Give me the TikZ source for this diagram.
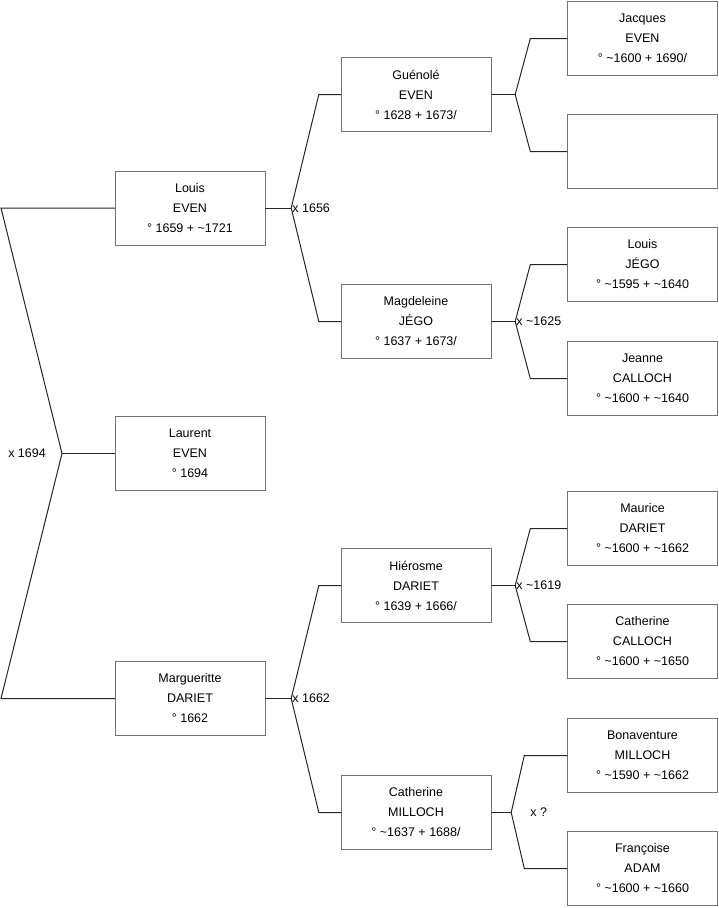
\documentclass[tikz,border=0pt]{standalone}
\usepackage{fontspec}
\setmainfont{Liberation Sans}
\usetikzlibrary{positioning}
\tikzset{
  pbox/.style={draw=black!55,fill=white,minimum width=150pt,minimum height=74pt,inner sep=0pt,align=center,font=\fontsize{12.5}{20}\selectfont},
  lnk/.style={draw=black!85,line width=1pt},
  mlbl/.style={inner sep=1pt,font=\fontsize{12.5}{15}\selectfont},
}
\newcommand{\ca}{\textasciitilde}

\begin{document}
\begin{tikzpicture}[x=1pt,y=-1pt]
 \useasboundingbox (0,0) rectangle (719,908);
 % people, one box each
 \foreach \n/\x/\y/\t in {louis/190/208/{Louis\\EVEN\\° 1659 + \ca1721},
   laurent/190/453.5/{Laurent\\EVEN\\° 1694},
   marg/190/698.5/{Margueritte\\DARIET\\° 1662},
   guenole/416/94.5/{Guénolé\\EVEN\\° 1628 + 1673/},
   magd/416/321.5/{Magdeleine\\JÉGO\\° 1637 + 1673/},
   hier/416/585.5/{Hiérosme\\DARIET\\° 1639 + 1666/},
   cathm/416/812.5/{Catherine\\MILLOCH\\° \ca1637 + 1688/},
   jacques/642.5/38.5/{Jacques\\EVEN\\° \ca1600 + 1690/},
   unknown/642.5/151.5/{},
   ljego/642.5/264.5/{Louis\\JÉGO\\° \ca1595 + \ca1640},
   jeanne/642.5/378.5/{Jeanne\\CALLOCH\\° \ca1600 + \ca1640},
   maurice/642.5/528.5/{Maurice\\DARIET\\° \ca1600 + \ca1662},
   cathc/642.5/641.5/{Catherine\\CALLOCH\\° \ca1600 + \ca1650},
   bonav/642.5/755.5/{Bonaventure\\MILLOCH\\° \ca1590 + \ca1662},
   francoise/642.5/868.5/{Françoise\\ADAM\\° \ca1600 + \ca1660}}
   {\node[pbox] (\n) at (\x,\y) {\t};}
 % root couple, drawn to the left
 \coordinate (jroot) at (62,453.5);
 \coordinate (broot) at (1,0);
 \draw[lnk] (laurent.west) -- (jroot);
 \draw[lnk] (louis.west) -- (louis.west -| broot) -- (jroot) -- (marg.west -| broot) -- (marg.west);
 \node[mlbl,left=15pt of jroot] (m0) {x 1694};
 % child, join gap, father, mother, bend gap
 \def\fork#1#2#3#4#5{%
   \draw[lnk] (#1.east) -- ++(#2,0) coordinate (j#1);
   \draw[lnk] (#3.west) -- ++(-#5,0) coordinate (b#3) -- (j#1) -- (#4.west -| b#3) -- (#4.west);}
 \fork{louis}{26}{guenole}{magd}{22}
 \fork{marg}{26}{hier}{cathm}{22}
 \fork{guenole}{24}{jacques}{unknown}{37}
 \fork{magd}{24}{ljego}{jeanne}{37}
 \fork{hier}{24}{maurice}{cathc}{37}
 \fork{cathm}{20}{bonav}{francoise}{43}
 \node[mlbl,right=0pt of jlouis] (m1) {x 1656};
 \node[mlbl,right=0pt of jmarg] (m2) {x 1662};
 \node[mlbl,right=0pt of jmagd] (m3) {x \ca1625};
 \node[mlbl,right=0pt of jhier] (m4) {x \ca1619};
 \node[mlbl,right=18pt of jcathm] (m5) {x ?};
\end{tikzpicture}
\end{document}
